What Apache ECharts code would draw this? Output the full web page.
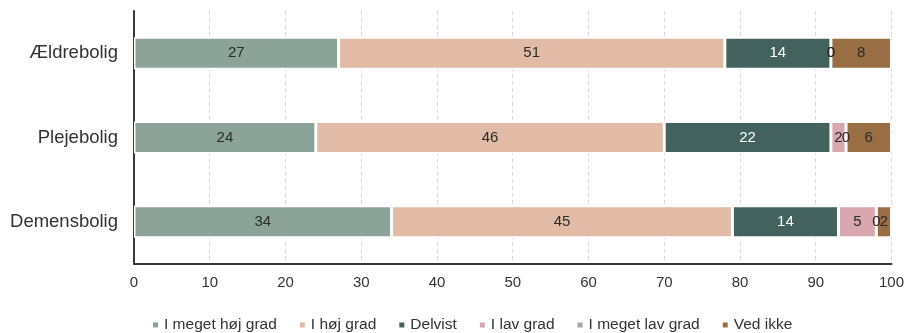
<!DOCTYPE html>
<html>
<head>
<meta charset="utf-8">
<script src="https://cdn.jsdelivr.net/npm/echarts@6/dist/echarts.min.js"></script>
<style>
  html, body { margin: 0; padding: 0; background: #fff; }
  #chart { width: 907px; height: 333px; }
</style>
</head>
<body>
<div id="chart"></div>
<script>
// Boligtyper (top to bottom)
const categories = ['Ældrebolig', 'Plejebolig', 'Demensbolig'];

// Answer categories, in stacking order
const seriesNames = ['I meget høj grad', 'I høj grad', 'Delvist', 'I lav grad', 'I meget lav grad', 'Ved ikke'];

// Percent shares per boligtype
const meget_hoej = [27, 24, 34];
const hoej = [51, 46, 45];
const delvist = [14, 22, 14];
const lav = [0, 2, 5];
const meget_lav = [0, 0, 0];
const ved_ikke = [8, 6, 2];

const xTicks = [0, 10, 20, 30, 40, 50, 60, 70, 80, 90, 100];

const values = [meget_hoej, hoej, delvist, lav, meget_lav, ved_ikke];
const colors = ['#8ba399', '#e1bba5', '#43625e', '#d9a7b0', '#a6a6a6', '#9a6e45'];
const labelColors = ['#2b2b2b', '#2b2b2b', '#ffffff', '#2b2b2b', '#2b2b2b', '#2b2b2b'];

const chart = echarts.init(document.getElementById('chart'), null, { renderer: 'canvas' });

chart.setOption({
  animation: false,
  textStyle: { fontFamily: 'Liberation Sans, Arial, sans-serif' },
  grid: { left: 134, right: 13, top: 11, bottom: 69, containLabel: false },
  legend: {
    left: 146,
    top: 312,
    itemWidth: 7,
    itemHeight: 7,
    itemGap: 21,
    icon: 'rect',
    textStyle: {
      fontFamily: 'Liberation Sans, Arial, sans-serif',
      fontSize: 15.5,
      color: '#333333'
    },
    data: seriesNames
  },
  xAxis: {
    type: 'value',
    min: xTicks[0],
    max: xTicks[xTicks.length - 1],
    interval: xTicks[1] - xTicks[0],
    axisLine: { show: true, lineStyle: { color: '#3a3a3a', width: 2 } },
    axisTick: { show: false },
    axisLabel: {
      fontSize: 15,
      color: '#333333',
      margin: 11,
      formatter: v => xTicks.includes(v) ? String(v) : ''
    },
    splitLine: { show: true, lineStyle: { color: '#d9d9d9', type: [4, 3], width: 1 } }
  },
  yAxis: {
    type: 'category',
    data: categories,
    inverse: true,
    axisLine: { show: true, lineStyle: { color: '#3a3a3a', width: 2 } },
    axisTick: { show: false },
    axisLabel: { fontSize: 18.5, color: '#333333', margin: 16 },
    splitLine: { show: false }
  },
  series: seriesNames.map((name, i) => ({
    name: name,
    type: 'bar',
    stack: 'total',
    barWidth: 32,
    data: values[i],
    itemStyle: { color: colors[i], borderColor: '#ffffff', borderWidth: 1.5 },
    label: {
      show: true,
      position: 'inside',
      fontSize: 15,
      color: labelColors[i],
      formatter: p => String(p.value)
    },
    emphasis: { disabled: true }
  }))
});
</script>
</body>
</html>
